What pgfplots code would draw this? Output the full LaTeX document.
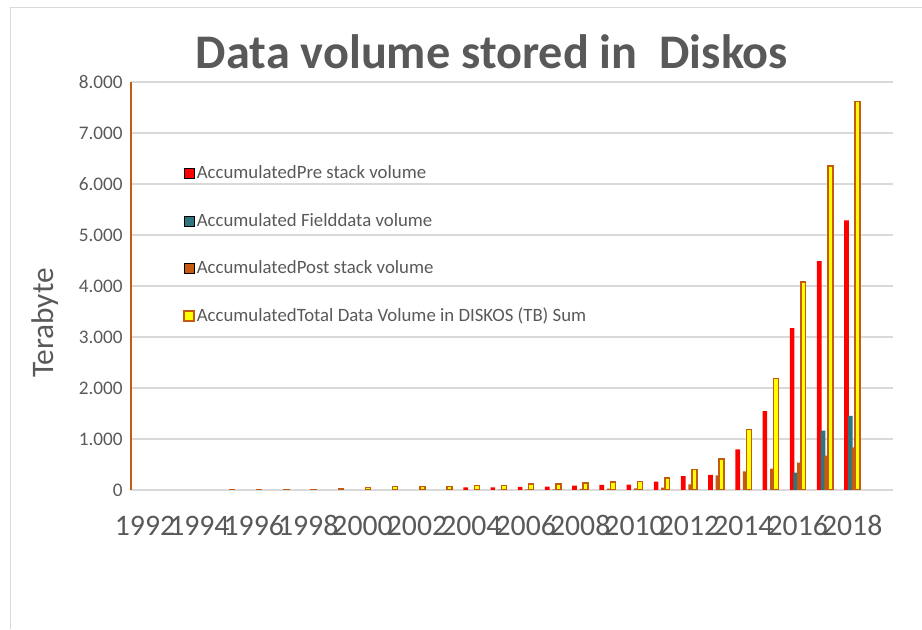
\documentclass[border=0pt]{standalone}
\usepackage{pgfplots}
\pgfplotsset{compat=1.18}
\usepackage{fontspec}
\setmainfont{Carlito}
\definecolor{txt}{HTML}{595959}
\definecolor{gridc}{HTML}{D9D9D9}
\definecolor{teal2}{HTML}{2E7580}
\definecolor{brown2}{HTML}{C55A11}
\definecolor{yel}{HTML}{FFFF00}
\definecolor{red2}{HTML}{FF0000}
\pgfplotsset{sqleg/.style={legend image code/.code={\draw[##1] (0pt,-3.7pt) rectangle (7.5pt,3.7pt);}}}
\begin{document}
\begin{tikzpicture}[x=0.75pt,y=0.75pt]
\useasboundingbox (0,0) rectangle (922,629);
\draw[gridc, line width=0.75pt] (10,0) -- (10,621) -- (922,621);
\node[text=txt, font=\fontsize{36.2}{40}\selectfont\bfseries] at (492,577) {Data volume stored in \ Diskos};
\node[text=txt, rotate=90, font=\fontsize{23.5}{26}\selectfont] at (45,306) {Terabyte};
\begin{axis}[
  at={(98.55pt,104.25pt)}, anchor=south west,
  scale only axis, width=571.2pt, height=306pt,
  xmin=-0.5, xmax=27.5, ymin=0, ymax=8000,
  axis y line*=left, axis x line*=bottom,
  x axis line style={draw=none},
  y axis line style={draw=brown2, line width=1.5pt, -},
  ymajorgrids, grid style={gridc, line width=1.1pt},
  major tick length=0pt,
  ytick={0,1000,2000,3000,4000,5000,6000,7000,8000},
  yticklabels={0,1.000,2.000,3.000,4.000,5.000,6.000,7.000,8.000},
  xtick={0,2,4,6,8,10,12,14,16,18,20,22,24,26},
  xticklabels={1992,1994,1996,1998,2000,2002,2004,2006,2008,2010,2012,2014,2016,2018},
  /pgf/number format/assume math mode=true,
  x tick label style={text=txt, font=\fontsize{22.3}{25}\selectfont, anchor=north, inner sep=0pt, text height=14.1pt, text depth=0pt, yshift=-20.2pt},
  y tick label style={text=txt, font=\fontsize{14.4}{16}\selectfont, xshift=-3pt},
  legend style={at={(0.0678,0.80)}, anchor=north west, draw=none, fill=none,
    font=\fontsize{14.1}{16}\selectfont, text=txt, inner sep=0pt,
    row sep=21.3pt, nodes={inner sep=1.5pt}},
  legend cell align=left,
  ybar, bar width=0.17,
]
\addplot[ybar, bar shift=-0.21, fill=red2, draw=none, sqleg] coordinates {
(12,50) (13,50) (14,62) (15,64) (16,86) (17,99) (18,105) (19,164) (20,270)
(21,296) (22,796) (23,1546) (24,3173) (25,4490) (26,5288)};
\addlegendentry{AccumulatedPre stack volume}
\addplot[ybar, bar shift=-0.074, fill=teal2, draw=none, sqleg] coordinates {
(24,340) (25,1163) (26,1451)};
\addlegendentry{Accumulated Fielddata volume}
\addplot[ybar, bar shift=0.063, fill=brown2, draw=none, sqleg] coordinates {
(13,8) (14,13) (15,13) (16,20) (17,26) (18,33) (19,46) (20,108)
(21,285) (22,365) (23,418) (24,536) (25,673) (26,837)};
\addlegendentry{AccumulatedPost stack volume}
\addplot[ybar, bar shift=0.199, bar width=0.18, fill=yel, draw=brown2, line width=1.1pt, sqleg] coordinates {
(3,2) (4,2) (5,2) (6,15) (7,25) (8,46) (9,66) (10,66) (11,73) (12,92)
(13,92) (14,115) (15,115) (16,141) (17,154) (18,164) (19,233) (20,406)
(21,610) (22,1187) (23,2190) (24,4078) (25,6353) (26,7614)};
\addlegendentry{AccumulatedTotal Data Volume in DISKOS (TB) Sum}
\end{axis}
\end{tikzpicture}
\end{document}
